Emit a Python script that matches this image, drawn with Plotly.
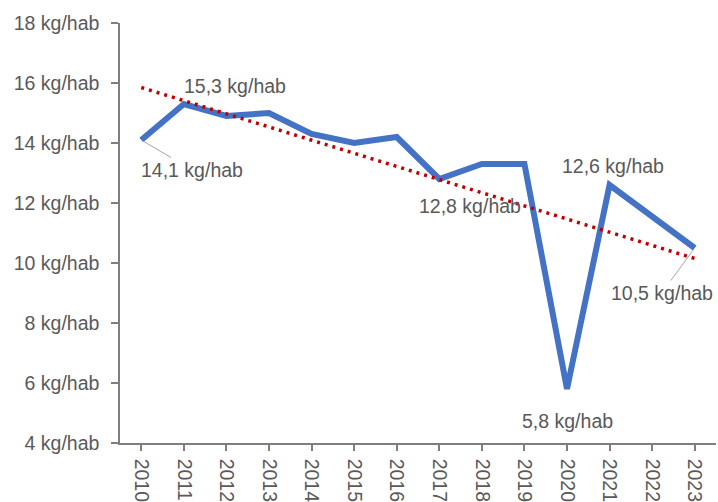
import plotly.graph_objects as go

years = [2010, 2011, 2012, 2013, 2014, 2015, 2016, 2017, 2018, 2019, 2020, 2021, 2022, 2023]
values = [14.1, 15.3, 14.9, 15.0, 14.3, 14.0, 14.2, 12.8, 13.3, 13.3, 5.8, 12.6, None, 10.5]
trend_years = [2010, 2023]
trend_values = [15.85, 10.15]
y_ticks = [4, 6, 8, 10, 12, 14, 16, 18]
y_ticktext = [f"{v} kg/hab" for v in y_ticks]
x_ticktext = [str(y) for y in years]

label_font = dict(family="Liberation Sans, Arial, sans-serif", size=19.5, color="#595959")

fig = go.Figure()
fig.add_trace(go.Scatter(x=years, y=values, mode="lines", connectgaps=True,
                         line=dict(color="#4472C4", width=6), showlegend=False))
fig.add_trace(go.Scatter(x=trend_years, y=trend_values, mode="lines",
                         line=dict(color="#C00000", width=3.5, dash="3px,5px"), showlegend=False))

def val(y):
    return values[years.index(y)]

# labels with leader lines
fig.add_annotation(x=2010, y=val(2010), text="14,1 kg/hab", showarrow=True, arrowhead=0,
                   arrowcolor="#A6A6A6", arrowwidth=1, ax=51, ay=30, font=label_font, standoff=2)
fig.add_annotation(x=2023, y=val(2023), text="10,5 kg/hab", showarrow=True, arrowhead=0,
                   arrowcolor="#A6A6A6", arrowwidth=1, ax=-33, ay=45, font=label_font, standoff=2)
# plain labels
fig.add_annotation(x=2011, y=val(2011), text="15,3 kg/hab", showarrow=False, xshift=51, yshift=18, font=label_font)
fig.add_annotation(x=2017, y=val(2017), text="12,8 kg/hab", showarrow=False, xshift=31, yshift=-27, font=label_font)
fig.add_annotation(x=2021, y=val(2021), text="12,6 kg/hab", showarrow=False, xshift=3, yshift=19, font=label_font)
fig.add_annotation(x=2020, y=val(2020), text="5,8 kg/hab", showarrow=False, xshift=0, yshift=-32, font=label_font)

fig.update_layout(
    width=718, height=502,
    margin=dict(l=120, r=2, t=23, b=59, autoexpand=False),
    paper_bgcolor="white", plot_bgcolor="white",
    font=label_font,
    xaxis=dict(range=[2009.5, 2023.5], tickvals=years, ticktext=x_ticktext, tickangle=90,
               showgrid=False, zeroline=False, showline=True, linecolor="#7F7F7F", linewidth=1.5,
               ticks="outside", ticklen=6, tickcolor="#7F7F7F", tickwidth=1.5,
               ticklabelstandoff=4, tickfont=label_font, automargin=False),
    yaxis=dict(range=[4, 18], tickvals=y_ticks, ticktext=y_ticktext,
               showgrid=False, zeroline=False, showline=True, linecolor="#7F7F7F", linewidth=1.5,
               ticks="outside", ticklen=7, tickcolor="#7F7F7F", tickwidth=1.5,
               ticklabelstandoff=8, tickfont=label_font, automargin=False),
)

fig.write_html("out.html", config={"displayModeBar": False},
               post_script="document.body.style.margin='0';document.body.style.overflow='hidden';")
